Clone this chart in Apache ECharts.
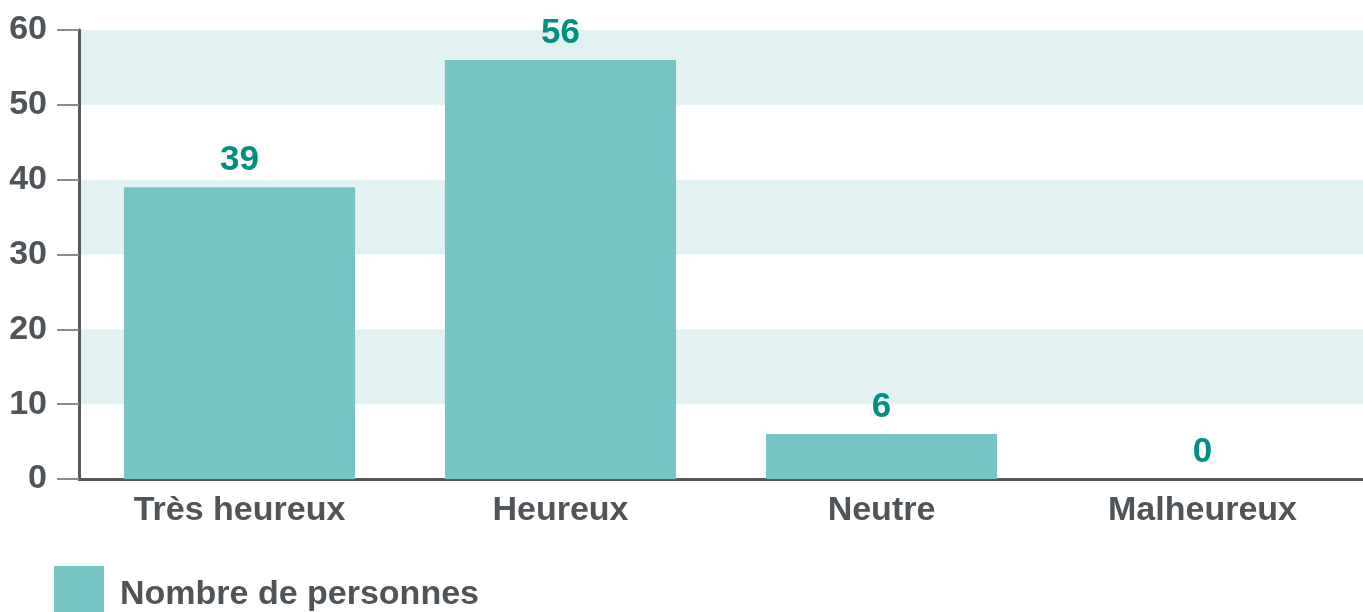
<!DOCTYPE html>
<html>
<head>
<meta charset="utf-8">
<script src="https://cdn.jsdelivr.net/npm/echarts@6/dist/echarts.min.js"></script>
<style>
  html, body { margin: 0; padding: 0; background: #fff; }
  #chart { width: 1363px; height: 612px; }
</style>
</head>
<body>
<div id="chart"></div>
<script>
// categories and values
const categories = ['Très heureux', 'Heureux', 'Neutre', 'Malheureux'];
const personnes = [39, 56, 6, 0];
const seriesName = 'Nombre de personnes';

const font = '"Liberation Sans", Arial, Helvetica, sans-serif';
const textGrey = '#4f5459';

const chart = echarts.init(document.getElementById('chart'));

chart.setOption({
  backgroundColor: '#fff',
  animation: false,
  textStyle: { fontFamily: font },
  legend: {
    left: 54,
    top: 566,
    padding: 0,
    itemWidth: 50,
    itemHeight: 46,
    icon: 'rect',
    formatter: name => '{t|' + name + '}',
    textStyle: {
      rich: {
        t: {
          color: textGrey,
          fontSize: 34,
          fontWeight: 'bold',
          fontFamily: font,
          padding: [12, 0, 0, 11]
        }
      }
    },
    data: [seriesName]
  },
  grid: { left: 79, right: 0, top: 30, bottom: 133, containLabel: false },
  xAxis: {
    type: 'category',
    data: categories,
    axisLine: { lineStyle: { color: '#55595d', width: 3 } },
    axisTick: { show: false },
    axisLabel: {
      color: textGrey,
      fontSize: 34,
      fontWeight: 'bold',
      fontFamily: font,
      margin: 15
    }
  },
  yAxis: {
    type: 'value',
    min: 0,
    max: 60,
    interval: 10,
    axisLine: { show: true, lineStyle: { color: '#55595d', width: 3 } },
    axisTick: { show: true, length: 22, lineStyle: { color: '#8a8d90', width: 2 } },
    splitLine: { show: false },
    splitArea: {
      show: true,
      areaStyle: { color: ['#ffffff', '#e2f1f1'] }
    },
    axisLabel: {
      color: textGrey,
      fontSize: 34,
      fontWeight: 'bold',
      fontFamily: font,
      margin: 32
    }
  },
  series: [{
    name: seriesName,
    type: 'bar',
    data: personnes,
    barCategoryGap: '28%',
    itemStyle: { color: '#76c4c4' },
    label: {
      show: true,
      position: 'top',
      distance: 9,
      color: '#008f80',
      fontSize: 35,
      fontWeight: 'bold',
      fontFamily: font
    }
  }]
});
</script>
</body>
</html>
